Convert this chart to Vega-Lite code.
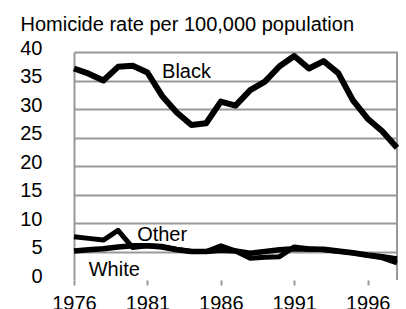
{
  "$schema": "https://vega.github.io/schema/vega-lite/v6.json",
  "autosize": {"type": "none"},
  "width": 323,
  "height": 228,
  "padding": {"left": 74, "top": 52, "right": 9, "bottom": 29},
  "background": "white",
  "config": {
    "view": {"stroke": null},
    "font": "Liberation Sans"
  },
  "datasets": {
    "rates": [
      {"year": 1976, "race": "Black", "rate": 37.1},
      {"year": 1977, "race": "Black", "rate": 36.2},
      {"year": 1978, "race": "Black", "rate": 35.0},
      {"year": 1979, "race": "Black", "rate": 37.4},
      {"year": 1980, "race": "Black", "rate": 37.6},
      {"year": 1981, "race": "Black", "rate": 36.4},
      {"year": 1982, "race": "Black", "rate": 32.3},
      {"year": 1983, "race": "Black", "rate": 29.4},
      {"year": 1984, "race": "Black", "rate": 27.2},
      {"year": 1985, "race": "Black", "rate": 27.5},
      {"year": 1986, "race": "Black", "rate": 31.3},
      {"year": 1987, "race": "Black", "rate": 30.6},
      {"year": 1988, "race": "Black", "rate": 33.3},
      {"year": 1989, "race": "Black", "rate": 34.8},
      {"year": 1990, "race": "Black", "rate": 37.5},
      {"year": 1991, "race": "Black", "rate": 39.3},
      {"year": 1992, "race": "Black", "rate": 37.1},
      {"year": 1993, "race": "Black", "rate": 38.4},
      {"year": 1994, "race": "Black", "rate": 36.3},
      {"year": 1995, "race": "Black", "rate": 31.5},
      {"year": 1996, "race": "Black", "rate": 28.3},
      {"year": 1997, "race": "Black", "rate": 26.1},
      {"year": 1998, "race": "Black", "rate": 23.2},
      {"year": 1976, "race": "White", "rate": 5.1},
      {"year": 1977, "race": "White", "rate": 5.3},
      {"year": 1978, "race": "White", "rate": 5.5},
      {"year": 1979, "race": "White", "rate": 5.8},
      {"year": 1980, "race": "White", "rate": 6.0},
      {"year": 1981, "race": "White", "rate": 6.0},
      {"year": 1982, "race": "White", "rate": 5.8},
      {"year": 1983, "race": "White", "rate": 5.3},
      {"year": 1984, "race": "White", "rate": 5.0},
      {"year": 1985, "race": "White", "rate": 5.0},
      {"year": 1986, "race": "White", "rate": 5.2},
      {"year": 1987, "race": "White", "rate": 5.1},
      {"year": 1988, "race": "White", "rate": 4.7},
      {"year": 1989, "race": "White", "rate": 5.0},
      {"year": 1990, "race": "White", "rate": 5.3},
      {"year": 1991, "race": "White", "rate": 5.5},
      {"year": 1992, "race": "White", "rate": 5.4},
      {"year": 1993, "race": "White", "rate": 5.4},
      {"year": 1994, "race": "White", "rate": 5.1},
      {"year": 1995, "race": "White", "rate": 4.8},
      {"year": 1996, "race": "White", "rate": 4.4},
      {"year": 1997, "race": "White", "rate": 4.1},
      {"year": 1998, "race": "White", "rate": 3.7},
      {"year": 1976, "race": "Other", "rate": 7.6},
      {"year": 1977, "race": "Other", "rate": 7.3},
      {"year": 1978, "race": "Other", "rate": 7.0},
      {"year": 1979, "race": "Other", "rate": 8.7},
      {"year": 1980, "race": "Other", "rate": 5.7},
      {"year": 1981, "race": "Other", "rate": 6.0},
      {"year": 1982, "race": "Other", "rate": 5.9},
      {"year": 1983, "race": "Other", "rate": 5.4},
      {"year": 1984, "race": "Other", "rate": 5.0},
      {"year": 1985, "race": "Other", "rate": 5.0},
      {"year": 1986, "race": "Other", "rate": 6.0},
      {"year": 1987, "race": "Other", "rate": 5.1},
      {"year": 1988, "race": "Other", "rate": 3.8},
      {"year": 1989, "race": "Other", "rate": 4.0},
      {"year": 1990, "race": "Other", "rate": 4.1},
      {"year": 1991, "race": "Other", "rate": 5.8},
      {"year": 1992, "race": "Other", "rate": 5.5},
      {"year": 1993, "race": "Other", "rate": 5.3},
      {"year": 1994, "race": "Other", "rate": 5.0},
      {"year": 1995, "race": "Other", "rate": 4.7},
      {"year": 1996, "race": "Other", "rate": 4.3},
      {"year": 1997, "race": "Other", "rate": 3.9},
      {"year": 1998, "race": "Other", "rate": 3.0}
    ],
    "labels": [
      {"label": "Black", "year": 1982.0, "rate": 35.4},
      {"label": "Other", "year": 1980.3, "rate": 6.9},
      {"label": "White", "year": 1977.0, "rate": 0.7}
    ]
  },
  "encoding": {
    "x": {
      "field": "year",
      "type": "quantitative",
      "scale": {"domain": [1976, 1998], "zero": false, "nice": false},
      "axis": {
        "title": null,
        "values": [1976, 1981, 1986, 1991, 1996],
        "format": "d",
        "grid": false,
        "domain": false,
        "ticks": true,
        "tickColor": "rgb(153,153,153)",
        "tickWidth": 2,
        "tickSize": 5,
        "labelFontSize": 20,
        "labelColor": "black",
        "labelPadding": 8,
        "labelFlush": false,
        "labelOverlap": false
      }
    },
    "y": {
      "field": "rate",
      "type": "quantitative",
      "scale": {"domain": [0, 40], "nice": false},
      "axis": {
        "title": "Homicide rate per 100,000 population",
        "titleAngle": 0,
        "titleX": -54,
        "titleY": -22,
        "titleAlign": "left",
        "titleBaseline": "alphabetic",
        "titleFontSize": 20,
        "titleFontWeight": "normal",
        "titleColor": "black",
        "values": [0, 5, 10, 15, 20, 25, 30, 35, 40],
        "grid": true,
        "gridColor": {"condition": {"test": "datum.value === 0", "value": "transparent"}, "value": "rgb(153,153,153)"},
        "gridWidth": 2,
        "domain": true,
        "domainColor": "rgb(153,153,153)",
        "domainWidth": 2,
        "ticks": false,
        "labelFontSize": 20,
        "labelColor": "black",
        "labelPadding": 32,
        "labelOffset": -4,
        "labelFlush": false,
        "labelOverlap": false
      }
    }
  },
  "layer": [
    {
      "data": {"name": "labels"},
      "mark": {"type": "rule", "color": "rgb(153,153,153)", "strokeWidth": 2},
      "encoding": {
        "x": {"datum": 1998},
        "y": {"datum": 0},
        "y2": {"datum": 40}
      }
    },
    {
      "data": {"name": "rates"},
      "mark": {"type": "line", "strokeJoin": "round", "strokeCap": "butt"},
      "encoding": {
        "detail": {"field": "race"},
        "color": {"value": "black"},
        "strokeWidth": {
          "field": "race",
          "type": "nominal",
          "scale": {"domain": ["Black", "White", "Other"], "range": [6, 5, 1.8]},
          "legend": null
        },
        "order": {"field": "year"}
      }
    },
    {
      "data": {"name": "labels"},
      "mark": {"type": "text", "align": "left", "baseline": "alphabetic", "fontSize": 20, "color": "black"},
      "encoding": {
        "text": {"field": "label"}
      }
    }
  ]
}
